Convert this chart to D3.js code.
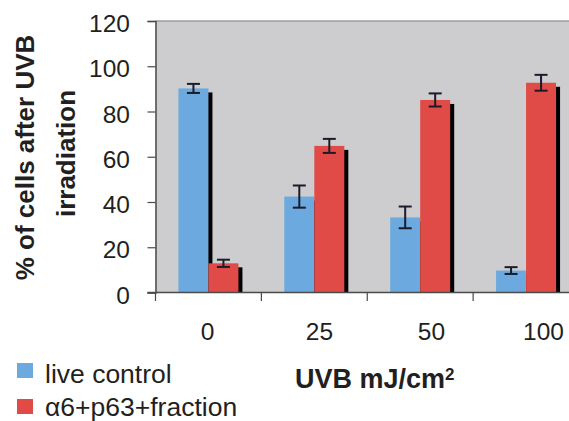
<!DOCTYPE html>
<html>
<head>
<meta charset="utf-8">
<script src="https://cdn.jsdelivr.net/npm/d3@7"></script>
<style>
  body { margin: 0; background: #fff; }
  svg text { font-family: "Liberation Sans", Arial, sans-serif; fill: #231f20; }
</style>
</head>
<body>
<svg id="chart"></svg>
<script>
// values
const doses = ["0", "25", "50", "100"];
const liveControl = [90.2, 42.4, 33.2, 9.7];
const liveControlErr = [2, 4.9, 4.8, 1.5];
const fraction = [12.9, 64.8, 85.1, 92.7];
const fractionErr = [1.6, 3.1, 2.9, 3.5];
const yTicks = [0, 20, 40, 60, 80, 100, 120];
const seriesNames = ["live control", "\u03b16+p63+fraction"];

class ShadowBars {
  constructor(_config) {
    this.config = {
      parentElement: _config.parentElement,
      containerWidth: _config.containerWidth || 569,
      containerHeight: _config.containerHeight || 421
    }
    this.initVis();
  }

  initVis() {
    let vis = this;

    vis.svg = d3.select(vis.config.parentElement)
        .attr('width', vis.config.containerWidth)
        .attr('height', vis.config.containerHeight);

    vis.left = 155.5;
    vis.top = 21;
    vis.bottom = 292.5;

    vis.xScale = d3.scaleBand()
        .domain(doses)
        .range([vis.left, 579])
        .padding(0);

    // tick labels sit a little off the band centres in the original
    vis.labelScale = d3.scalePoint()
        .domain(doses)
        .range([207.5, 543.5]);

    vis.yScale = d3.scaleLinear()
        .domain([0, 120])
        .range([vis.bottom, vis.top]);

    vis.color = d3.scaleOrdinal()
        .domain(seriesNames)
        .range(["#6ba9de", "#e04b47"]);

    vis.barW = 30;
    vis.shadow = 4;

    // plot background
    vis.svg.append('rect')
        .attr('x', vis.left)
        .attr('y', vis.top)
        .attr('width', vis.config.containerWidth - vis.left)
        .attr('height', vis.bottom - vis.top)
        .attr('fill', '#cdcdcf');

    vis.svg.append('line')
        .attr('x1', vis.left).attr('x2', vis.config.containerWidth)
        .attr('y1', vis.top).attr('y2', vis.top)
        .attr('stroke', '#9c9c9e')
        .attr('stroke-width', 1.5);

    vis.renderVis();
  }

  renderVis() {
    let vis = this;

    const rows = [];
    doses.forEach((d, i) => {
      rows.push({ dose: d, s: 0, value: liveControl[i], err: liveControlErr[i] });
      rows.push({ dose: d, s: 1, value: fraction[i], err: fractionErr[i] });
    });
    const barX = d => vis.xScale(d.dose) + vis.xScale.bandwidth() / 2 + (d.s - 1) * vis.barW;

    // drop shadows first so the neighbouring bar covers them
    vis.svg.selectAll('.shadow')
        .data(rows)
      .join('rect')
        .attr('class', 'shadow')
        .attr('x', d => barX(d) + vis.shadow)
        .attr('y', d => vis.yScale(d.value) + vis.shadow)
        .attr('width', vis.barW)
        .attr('height', d => vis.bottom - vis.yScale(d.value) - vis.shadow)
        .attr('fill', '#000');

    vis.svg.selectAll('.bar')
        .data(rows)
      .join('rect')
        .attr('class', 'bar')
        .attr('x', d => barX(d))
        .attr('y', d => vis.yScale(d.value))
        .attr('width', vis.barW)
        .attr('height', d => vis.bottom - vis.yScale(d.value))
        .attr('fill', d => vis.color(seriesNames[d.s]));

    // error bars
    const eb = vis.svg.selectAll('.err')
        .data(rows)
      .join('g')
        .attr('class', 'err')
        .attr('stroke', '#1b1b2c')
        .attr('stroke-width', 2);
    eb.append('line')
        .attr('x1', d => barX(d) + vis.barW / 2)
        .attr('x2', d => barX(d) + vis.barW / 2)
        .attr('y1', d => vis.yScale(d.value - d.err))
        .attr('y2', d => vis.yScale(d.value + d.err));
    eb.selectAll('.cap')
        .data(d => [d.value - d.err, d.value + d.err].map(v => ({ x: barX(d) + vis.barW / 2, v: v })))
      .join('line')
        .attr('class', 'cap')
        .attr('x1', c => c.x - 6.5)
        .attr('x2', c => c.x + 6.5)
        .attr('y1', c => vis.yScale(c.v))
        .attr('y2', c => vis.yScale(c.v));

    // Y axis
    const yAxis = d3.axisLeft(vis.yScale)
        .tickValues(yTicks)
        .tickSize(8)
        .tickPadding(17.5);
    const yG = vis.svg.append('g')
        .attr('transform', `translate(${vis.left},0)`)
        .call(yAxis);
    yG.select('.domain').attr('stroke', '#4a4a4a').attr('stroke-width', 1.5);
    yG.selectAll('.tick line').attr('stroke', '#4a4a4a').attr('stroke-width', 1.2);
    yG.selectAll('.tick text')
        .attr('dy', '0.43em')
        .style('font-size', '24.5px')
        .style('fill', '#231f20');

    // X axis: line plus ticks on the category boundaries
    vis.svg.append('line')
        .attr('x1', vis.left - 8).attr('x2', vis.config.containerWidth)
        .attr('y1', vis.bottom).attr('y2', vis.bottom)
        .attr('stroke', '#4a4a4a')
        .attr('stroke-width', 1.5);
    vis.svg.selectAll('.xtick')
        .data(doses)
      .join('line')
        .attr('class', 'xtick')
        .attr('x1', d => vis.xScale(d)).attr('x2', d => vis.xScale(d))
        .attr('y1', vis.bottom).attr('y2', vis.bottom + 8.5)
        .attr('stroke', '#4a4a4a')
        .attr('stroke-width', 1.2);
    vis.svg.selectAll('.xlabel')
        .data(doses)
      .join('text')
        .attr('class', 'xlabel')
        .attr('x', d => vis.labelScale(d))
        .attr('y', 340)
        .attr('text-anchor', 'middle')
        .style('font-size', '24.5px')
        .text(d => d);

    // axis titles
    vis.svg.append('text')
        .attr('text-anchor', 'middle')
        .attr('font-weight', 'bold')
        .style('font-size', '26px')
        .attr('transform', 'translate(34,157.5) rotate(-90)')
        .text('% of cells after UVB');
    vis.svg.append('text')
        .attr('text-anchor', 'middle')
        .attr('font-weight', 'bold')
        .style('font-size', '26px')
        .attr('transform', 'translate(75,153.5) rotate(-90)')
        .text('irradiation');

    const xt = vis.svg.append('text')
        .attr('x', 295)
        .attr('y', 388)
        .attr('font-weight', 'bold')
        .style('font-size', '27px');
    xt.append('tspan').text('UVB mJ/cm');
    xt.append('tspan')
        .attr('dy', -8)
        .style('font-size', '17px')
        .text('2');

    // legend
    const leg = vis.svg.selectAll('.legend')
        .data(seriesNames)
      .join('g')
        .attr('class', 'legend')
        .attr('transform', (d, i) => `translate(17,${363 + i * 36})`);
    leg.append('rect')
        .attr('width', 16)
        .attr('height', 15)
        .attr('fill', d => vis.color(d));
    leg.append('text')
        .attr('x', 28)
        .attr('y', (d, i) => 20 - i * 3)
        .style('font-size', '26.5px')
        .text(d => d);
  }
}

new ShadowBars({ parentElement: '#chart' });
</script>
</body>
</html>
